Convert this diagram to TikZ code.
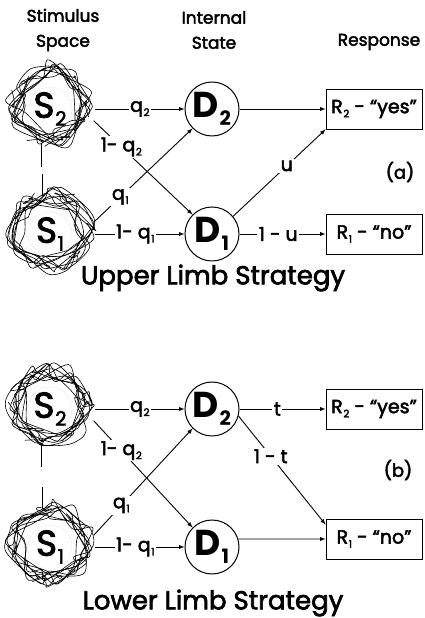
\documentclass[tikz,border=0pt]{standalone}
\usepackage{fontspec}
\setmainfont{Poppins}[UprightFeatures={FakeBold=2.5}]
\usetikzlibrary{positioning, arrows}

% lowered index, e.g. S\lowidx{2}
\newcommand{\lowidx}[1]{\kern0.6pt\raisebox{-0.4ex}{\scalebox{0.55}{#1}}}

% tangled scribble round a stimulus node
\newcommand{\scribble}[2]{%
  \pgfmathsetseed{#2}%
  \foreach \k in {1,...,3}{%
    \draw[scrib, shift={(#1)}, yshift=4pt] plot[smooth cycle, samples=34, domain=0:1060, variable=\a]
      ({\a+rnd*40}:{24+rnd*22});
  }%
  \foreach \k in {1,...,7}{%
    \draw[scrib, shift={(#1)}, yshift=4pt, rotate=rnd*360] (32,0) .. controls (44,{rnd*14}) and (28,{10+rnd*10}) .. ({34+rnd*8},{-4-rnd*8});
  }%
  \draw[densely dotted, gray!45, shift={(#1)}] (0,0) circle (22);
}

\tikzset{
  stim/.style={circle, minimum size=90pt, inner sep=0pt, font=\fontsize{36}{36}\selectfont},
  dstate/.style={circle, draw, line width=1pt, minimum size=54pt, inner sep=0pt,
    font=\fontsize{36}{36}\selectfont\bfseries},
  resp/.style={draw, line width=0.9pt, minimum width=96pt, minimum height=40pt, inner sep=2pt,
    font=\fontsize{19}{19}\selectfont},
  lbl/.style={fill=white, inner sep=1.5pt, font=\fontsize{19}{19}\selectfont},
  head/.style={align=center, font=\fontsize{17}{25}\selectfont},
  title/.style={font=\fontsize{26}{26}\selectfont},
  conn/.style={-latex, line width=0.9pt},
  scrib/.style={line width=0.6pt, line join=round},
}

\begin{document}
\begin{tikzpicture}[x=1pt, y=1pt, node distance=162pt, on grid]
  \useasboundingbox (0,0) rectangle (424,618);

  % column heads
  \node[head] (hstim) at (63,588) {Stimulus\\Space};
  \node[head] (hstate) at (214,588) {Internal\\State};
  \node[head] (hresp) at (379,576) {Response};

  % upper limb
  \node[stim] (s2a) at (50,509) {S\lowidx{2}};
  \node[dstate, right=of s2a] (d2a) {D\lowidx{2}};
  \node[resp, right=of d2a] (r2a) {R\lowidx{2} - “yes”};
  \node[stim, below=125pt of s2a] (s1a) {S\lowidx{1}};
  \node[dstate, right=of s1a] (d1a) {D\lowidx{1}};
  \node[resp, right=of d1a] (r1a) {R\lowidx{1} - “no”};
  \node (taga) at (400,446) {\fontsize{18}{18}\selectfont(a)};
  \node[title] (upper) at (213,340) {Upper Limb Strategy};

  \draw[conn] (s2a) -- node[lbl] {q\lowidx{2}} (d2a);
  \draw[conn] (s2a.-15) -- node[lbl, pos=0.28] {1- q\lowidx{2}} (d1a.135);
  \draw[conn] (s1a.15) -- node[lbl, pos=0.27] {q\lowidx{1}} (d2a.225);
  \draw[conn] (s1a) -- node[lbl, pos=0.45] {1- q\lowidx{1}} (d1a);
  \draw[conn] (d2a) -- (r2a);
  \draw[conn] (d1a.40) -- node[lbl, pos=0.58] {u} (r2a.south west);
  \draw[conn] (d1a) -- node[lbl, pos=0.45] {1 - u} (r1a);

  % lower limb
  \node[stim] (s2b) at (50,209) {S\lowidx{2}};
  \node[dstate, right=of s2b] (d2b) {D\lowidx{2}};
  \node[resp, right=of d2b] (r2b) {R\lowidx{2} - “yes”};
  \node[stim, below=138pt of s2b] (s1b) {S\lowidx{1}};
  \node[dstate, right=of s1b] (d1b) {D\lowidx{1}};
  \node[resp, right=of d1b, yshift=8pt] (r1b) {R\lowidx{1} - “no”};
  \node (tagb) at (398,148) {\fontsize{18}{18}\selectfont(b)};
  \node[title] (lower) at (213,15) {Lower Limb Strategy};

  \draw[conn] (s2b) -- node[lbl] {q\lowidx{2}} (d2b);
  \draw[conn] (s2b.-15) -- node[lbl, pos=0.28] {1- q\lowidx{2}} (d1b.135);
  \draw[conn] (s1b.15) -- node[lbl, pos=0.28] {q\lowidx{1}} (d2b.225);
  \draw[conn] (s1b) -- node[lbl, pos=0.45] {1- q\lowidx{1}} (d1b);
  \draw[conn] (d2b) -- node[lbl, pos=0.44] {t} (r2b);
  \draw[conn] (d2b.-15) -- node[lbl, pos=0.37] {1 - t} ([yshift=-6pt]r1b.north west);
  \draw[conn] (d1b.17) -- (r1b.west);

  % scribbled stimulus blobs with their stems
  \foreach \n/\s in {s2a/11, s1a/23, s2b/37, s1b/41}
    \scribble{\n}{\s};
  \foreach \n in {s2a, s2b}
    \draw[scrib, shift={(\n)}] (-9,-34) -- (-9,-58);
  \foreach \n in {s1a, s1b}
    \draw[scrib, shift={(\n)}] (-8,38) -- (-8,60);
\end{tikzpicture}
\end{document}
